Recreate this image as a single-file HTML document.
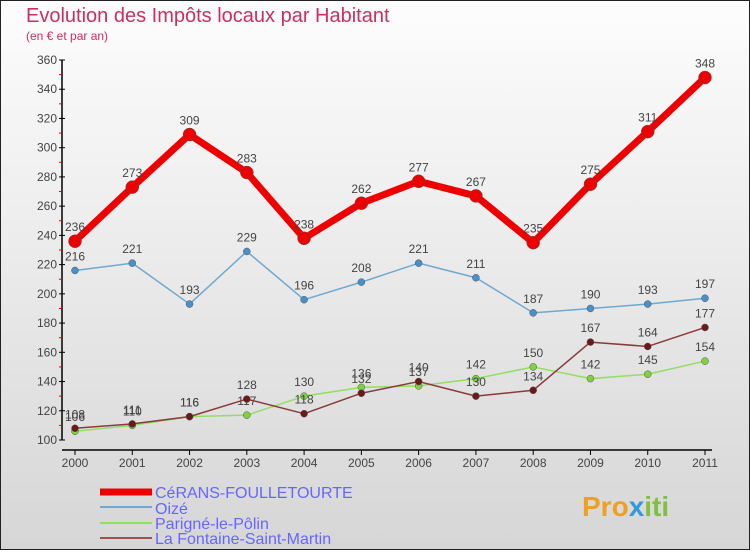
<!DOCTYPE html>
<html><head><meta charset="utf-8"><style>
body{margin:0;width:750px;height:550px;overflow:hidden;font-family:"Liberation Sans",sans-serif}
svg text{font-family:"Liberation Sans",sans-serif}
</style></head><body>
<svg id="c" width="750" height="550">
<defs><linearGradient id="bg" x1="0" y1="0" x2="0" y2="1"><stop offset="0" stop-color="#fdfdfd"/><stop offset="1" stop-color="#d6d6d6"/></linearGradient></defs>
<rect x="0.5" y="0.5" width="749" height="549" fill="url(#bg)" stroke="#222"/>
<text x="26" y="22" font-size="20" fill="#c8305e">Evolution des Impôts locaux par Habitant</text>
<text x="26" y="40" font-size="12" fill="#c8305e">(en € et par an)</text>
<g id="axes"></g><g id="series"></g>
<g>
<g><line x1="100" y1="492" x2="152" y2="492" stroke="#e00" stroke-width="7"/><text x="155" y="498" font-size="16" fill="#6666ff">CéRANS-FOULLETOURTE</text></g>
<g><line x1="100" y1="507" x2="152" y2="507" stroke="#6fa8d0" stroke-width="2"/><text x="155" y="514" font-size="16" fill="#6666ff">Oizé</text></g>
<g><line x1="100" y1="523" x2="152" y2="523" stroke="#90e060" stroke-width="2"/><text x="155" y="529" font-size="16" fill="#6666ff">Parigné-le-Pôlin</text></g>
<g><line x1="100" y1="538" x2="152" y2="538" stroke="#9a5050" stroke-width="2"/><text x="155" y="544" font-size="16" fill="#6666ff">La Fontaine-Saint-Martin</text></g>
</g>
<text x="582" y="516" font-size="28" font-weight="bold" fill="#f0a020">Pro<tspan fill="#3399dd">x</tspan><tspan fill="#80c040">iti</tspan></text>
</svg>
<script>
const years=["2000","2001","2002","2003","2004","2005","2006","2007","2008","2009","2010","2011"];
const yTicks=[100,120,140,160,180,200,220,240,260,280,300,320,340,360];
const cerans=[236,273,309,283,238,262,277,267,235,275,311,348];
const oize=[216,221,193,229,196,208,221,211,187,190,193,197];
const parigne=[106,110,116,117,130,136,137,142,150,142,145,154];
const fontaine=[108,111,116,128,118,132,140,130,134,167,164,177];
const NS="http://www.w3.org/2000/svg";
const X=i=>75+i*(630/11);
const Y=v=>440-(v-100)*380/260;
function mk(t,a,p){const e=document.createElementNS(NS,t);for(const k in a)e.setAttribute(k,a[k]);p.appendChild(e);return e;}
const ax=document.getElementById('axes');
let e=mk('line',{x1:62,y1:60,x2:62,y2:440,stroke:'#000','stroke-width':1.5},ax);


e=mk('line',{x1:62,y1:450,x2:712,y2:450,stroke:'#000','stroke-width':1.5},ax);


yTicks.forEach((v,i)=>{
  mk('line',{x1:59,y1:Y(v),x2:65,y2:Y(v),stroke:'#000'},ax);
  if(i<yTicks.length-1)mk('line',{x1:59,y1:Y(v+10),x2:62,y2:Y(v+10),stroke:'#e00'},ax);
  const t=mk('text',{x:57,y:Y(v)+4,'font-size':12,fill:'#444','text-anchor':'end'},ax);t.textContent=v;
  
  
});
years.forEach((y,i)=>{
  mk('line',{x1:X(i),y1:450,x2:X(i),y2:455,stroke:'#000'},ax);
  const t=mk('text',{x:X(i),y:467,'font-size':12,fill:'#444','text-anchor':'middle'},ax);t.textContent=y;
  
  
});
const sg=document.getElementById('series');
function draw(vals,col,w,r,dot,name){
  const g=mk('g',{},sg);
  
  
  mk('polyline',{points:vals.map((v,i)=>X(i)+','+Y(v)).join(' '),fill:'none',stroke:col,'stroke-width':w,'stroke-linejoin':'round'},g);
  vals.forEach((v,i)=>{
    const c=mk('circle',{cx:X(i),cy:Y(v),r:r,fill:dot,stroke:'#555','stroke-width':0.5},g);
    
    
    const t=mk('text',{x:X(i),y:Y(v)-10,'font-size':12,fill:'#444','text-anchor':'middle'},g);t.textContent=v;
    
    
  });
}
draw(oize,'#6fa8d0',1.5,3.5,'#4a8fc8','series-oize');
draw(parigne,'#90e060',1.5,3.5,'#80d040','series-parigne');
draw(fontaine,'#8a3a3a',1.5,3.5,'#6a1a1a','series-fontaine');
draw(cerans,'#e00',7,6.5,'#e00','series-cerans');
</script>
</body></html>
